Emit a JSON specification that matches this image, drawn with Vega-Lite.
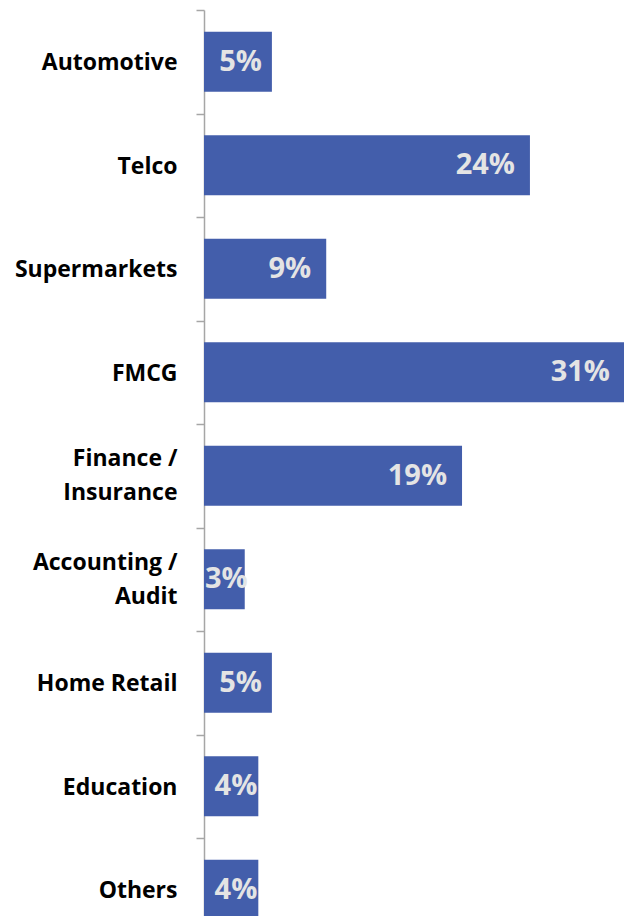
{
  "$schema": "https://vega.github.io/schema/vega-lite/v6.json",
  "autosize": {"type": "none"},
  "padding": {"left": 204, "top": 10, "right": 0, "bottom": 0},
  "width": 421,
  "height": 931.5,
  "background": "white",
  "config": {"view": {"stroke": null}},
  "data": {"values": [
    {"sector": "Automotive", "value": 0.05},
    {"sector": "Telco", "value": 0.24},
    {"sector": "Supermarkets", "value": 0.09},
    {"sector": "FMCG", "value": 0.31},
    {"sector": "Finance / Insurance", "value": 0.19},
    {"sector": "Accounting / Audit", "value": 0.03},
    {"sector": "Home Retail", "value": 0.05},
    {"sector": "Education", "value": 0.04},
    {"sector": "Others", "value": 0.04}
  ]},
  "encoding": {
    "y": {
      "field": "sector", "type": "nominal", "sort": null,
      "scale": {"paddingInner": 0, "paddingOuter": 0},
      "axis": {
        "title": null, "tickBand": "extent",
        "domainColor": "#a6a6a6", "domainWidth": 1.5,
        "tickColor": "#a6a6a6", "tickWidth": 1.5, "tickSize": 8,
        "labelFont": "Open Sans", "labelFontWeight": "bold", "labelFontSize": 23,
        "labelColor": "#000000", "labelPadding": 19, "labelLineHeight": 34,
        "labelExpr": "isValid(datum.value) ? split(replace(datum.value, ' / ', ' /|'), '|') : ''",
        "labelOffset": {"condition": {"test": "isValid(datum.value) && indexof(datum.value, ' / ') >= 0", "value": -17}, "value": 1},
        "labelLimit": 300
      }
    },
    "x": {
      "field": "value", "type": "quantitative",
      "scale": {"domain": [0, 0.31], "nice": false},
      "axis": null
    }
  },
  "layer": [
    {"mark": {"type": "bar", "color": "#435eab", "height": {"band": 0.58}}},
    {
      "mark": {
        "type": "text", "align": "right", "baseline": "middle",
        "font": "Open Sans", "fontWeight": "bold", "fontSize": 29, "color": "#e4e4e4",
        "dx": {"expr": "datum.value > 0.05 ? -15 : datum.value == 0.05 ? -10 : datum.value == 0.04 ? -1 : 3"}
      },
      "encoding": {"text": {"field": "value", "type": "quantitative", "format": ".0%"}}
    }
  ]
}
